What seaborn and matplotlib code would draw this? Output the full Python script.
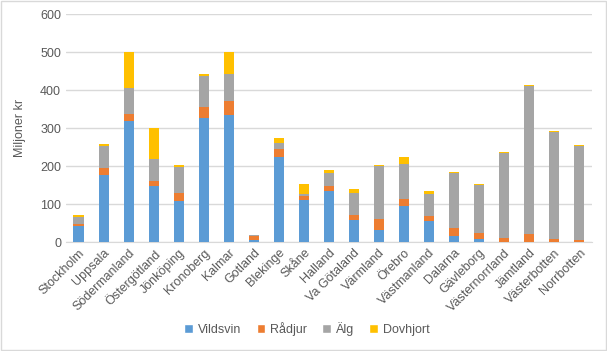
import pandas as pd
import matplotlib.pyplot as plt
import numpy as np
import seaborn as sns
from matplotlib.patches import Patch

# Regions and costs (Miljoner kr) per species
regions = ['Stockholm', 'Uppsala', 'Södermanland', 'Östergötland', 'Jönköping',
           'Kronoberg', 'Kalmar', 'Gotland', 'Blekinge', 'Skåne', 'Halland',
           'Va Götaland', 'Värmland', 'Örebro', 'Västmanland', 'Dalarna',
           'Gävleborg', 'Västernorrland', 'Jämtland', 'Västerbotten', 'Norrbotten']
vildsvin = [42, 177, 319, 147, 109, 326, 335, 4, 225, 111, 135,
            58, 32, 95, 56, 16, 9, 0, 0, 0, 0]
radjur = [5, 18, 18, 14, 21, 30, 37, 12, 20, 10, 12,
          14, 29, 19, 12, 21, 16, 11, 21, 8, 5]
alg = [20, 59, 68, 58, 68, 81, 71, 2, 16, 5, 35,
       58, 139, 91, 58, 145, 126, 224, 390, 281, 248]
dovhjort = [4, 4, 95, 81, 5, 6, 57, 1, 13, 27, 7,
            9, 3, 20, 8, 2, 2, 2, 2, 3, 2]

series = ['Vildsvin', 'Rådjur', 'Älg', 'Dovhjort']
colors = ['#5B9BD5', '#ED7D31', '#A5A5A5', '#FFC000']

df = pd.DataFrame({'Region': regions, 'Vildsvin': vildsvin, 'Rådjur': radjur,
                   'Älg': alg, 'Dovhjort': dovhjort})
cum = df[series].cumsum(axis=1)
cum['Region'] = df['Region']

sns.set_style('white')
plt.rcParams['font.family'] = ['Liberation Sans', 'DejaVu Sans']

fig = plt.figure(figsize=(6.07, 3.51), dpi=100)
ax = fig.add_axes([0.1087, 0.3105, 0.866, 0.6495])

# Stacked bars: draw cumulative totals from top layer down
for name, col in reversed(list(zip(series, colors))):
    sns.barplot(data=cum, x='Region', y=name, color=col, width=0.4,
                saturation=1, linewidth=0, edgecolor='none', ax=ax, zorder=3)

ax.set_ylim(0, 600)
ax.set_yticks(range(0, 601, 100))
ax.set_xlim(-0.5, len(regions) - 0.5)
ax.grid(axis='y', color='#D9D9D9', linewidth=1, zorder=0)
ax.set_axisbelow(True)
for s in ['top', 'right', 'left']:
    ax.spines[s].set_visible(False)
ax.spines['bottom'].set_color('#D9D9D9')
ax.tick_params(axis='both', length=0, labelsize=9, colors='#595959')
ax.set_xticks(range(len(regions)))
ax.set_xticklabels(regions, rotation=45, ha='right', rotation_mode='anchor')
ax.set_xlabel('')
ax.set_ylabel('Miljoner kr', fontsize=9, color='#595959', labelpad=10)

handles = [Patch(facecolor=c, label=s) for s, c in zip(series, colors)]
fig.legend(handles=handles, loc='center', bbox_to_anchor=(0.506, 0.063), ncol=4,
           frameon=False, fontsize=9, handlelength=0.7, handleheight=0.7,
           handletextpad=0.4, columnspacing=1.2, labelcolor='#595959')

# Light chart frame like the original
fig.patches.append(plt.Rectangle((0.001, 0.002), 0.997, 0.996, transform=fig.transFigure,
                                 fill=False, edgecolor='#D9D9D9', linewidth=1))

fig.savefig('out.png', dpi=100)
plt.close()
